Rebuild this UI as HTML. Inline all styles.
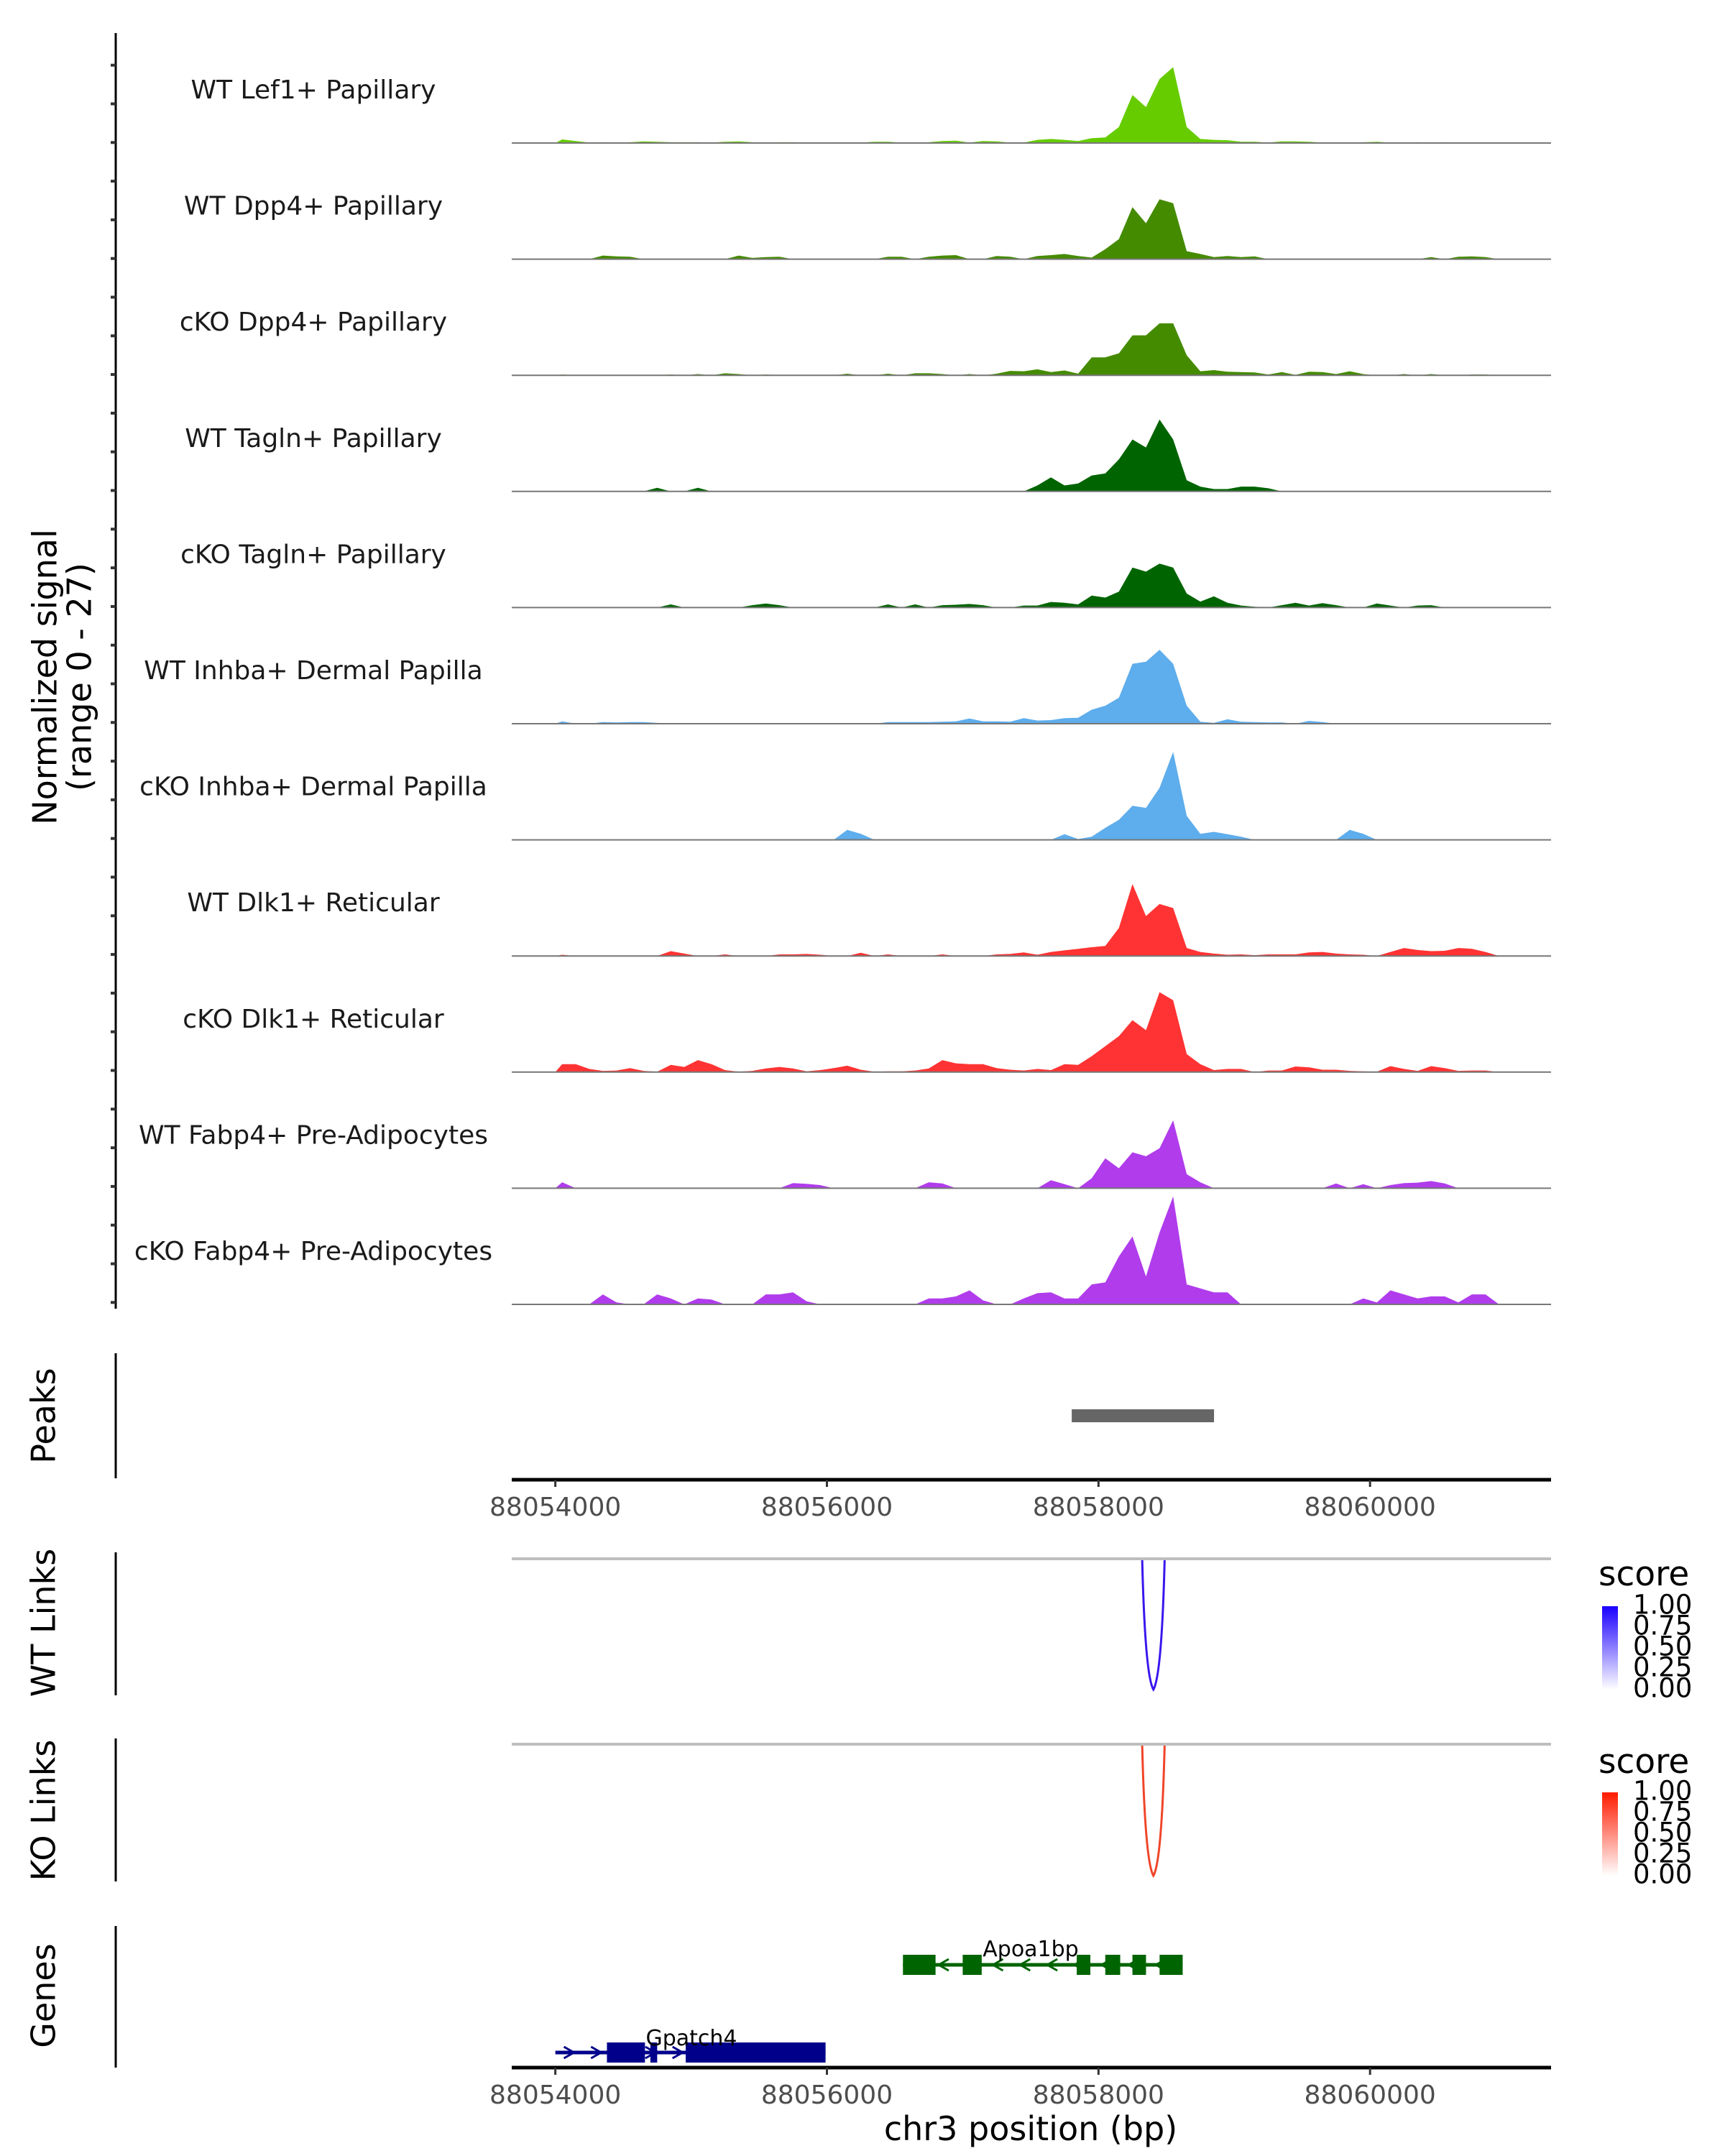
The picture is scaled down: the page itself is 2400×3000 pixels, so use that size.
<!DOCTYPE html>
<html><head><meta charset="utf-8"><style>
html,body{margin:0;padding:0;background:#fff;}
svg{display:block;font-family:"DejaVu Sans","Liberation Sans",sans-serif;}
</style></head><body>
<svg id="fig" width="2400" height="3000" viewBox="0 0 2400 3000" xmlns="http://www.w3.org/2000/svg">
<g id="tracks"></g>
<g id="axes"></g>
</svg>
<script>
const binStart = 88054000;
const binWidth = 100;
const trackNames = ["WT Lef1+ Papillary","WT Dpp4+ Papillary","cKO Dpp4+ Papillary","WT Tagln+ Papillary","cKO Tagln+ Papillary","WT Inhba+ Dermal Papilla","cKO Inhba+ Dermal Papilla","WT Dlk1+ Reticular","cKO Dlk1+ Reticular","WT Fabp4+ Pre-Adipocytes","cKO Fabp4+ Pre-Adipocytes"];
const trackColors = ["#66CC00","#458B00","#458B00","#006400","#006400","#5EADEC","#5EADEC","#FF3333","#FF3333","#B03CEC","#B03CEC"];
const wtLef1 = [0.9,0.5,0.1,0.2,0.1,0.2,0.4,0.3,0.2,0.2, 0.2,0.1,0.3,0.4,0.2,0.1,0.2,0.2,0.1,0.1, 0.2,0.1,0.1,0.3,0.3,0.1,0.1,0.2,0.5,0.6, 0.1,0.5,0.4,0.1,0.1,0.8,1.0,0.8,0.5,1.2, 1.4,4,12,9,16,19,4,1,0.8,0.7, 0.3,0.3,0.1,0.4,0.4,0.3,0.1,0.1,0.1,0.2, 0.3,0.1,0.1,0.2,0.1,0.2,0.1,0.1,0.1,0];
const wtDpp4 = [0,0,0,0.9,0.7,0.6,0,0,0,0, 0,0,0,0.9,0.3,0.5,0.6,0,0,0, 0,0,0,0,0.6,0.6,0,0.6,0.9,1.0, 0,0,0.8,0.6,0,0.8,1.0,1.3,0.8,0.4, 2.5,5,13,9,15,14,2,1.3,0.5,0.8, 0.5,0.7,0,0,0,0,0,0,0,0, 0,0,0,0,0.5,0,0.6,0.7,0.5,0];
const koDpp4 = [0.2,0,0,0,0,0,0,0,0.2,0, 0.3,0,0.5,0.3,0,0.2,0,0,0,0, 0,0.4,0,0,0.4,0,0.5,0.5,0.3,0, 0.3,0,0.4,1.1,1.0,1.5,0.8,1.2,0.4,4.5, 4.5,5.5,10,10,13,13,5,1.0,1.3,0.9, 0.8,0.7,0.2,0.8,0.1,0.9,0.8,0.3,1.0,0.3, 0,0,0.3,0,0.3,0,0,0.2,0.2,0];
const wtTagln = [0,0,0,0,0,0,0,0.9,0,0, 0.9,0,0,0,0,0,0,0,0,0, 0,0,0,0,0,0,0,0,0,0, 0,0,0,0,0,1.5,3.5,1.5,2.0,4, 4.5,8,13,11,18,13,2.8,1.2,0.6,0.6, 1.2,1.2,0.8,0,0,0,0,0,0,0, 0,0,0,0,0,0,0,0,0,0];
const koTagln = [0,0,0,0,0,0,0,0,0.8,0, 0,0,0,0,0.6,1.0,0.6,0,0,0, 0,0,0,0,0.8,0,0.8,0,0.6,0.7, 0.9,0.6,0,0,0.5,0.5,1.4,1.2,0.8,3, 2.5,4,10,9,11,10,3.5,1.5,2.8,1.2, 0.5,0.2,0,0.6,1.2,0.5,1.1,0.6,0,0, 1.0,0.5,0,0.5,0.6,0,0,0,0,0];
const wtInhba = [0.6,0,0,0.4,0.3,0.4,0.4,0.2,0,0, 0,0,0,0,0,0,0,0,0,0, 0,0,0,0,0.4,0.4,0.4,0.4,0.5,0.6, 1.3,0.6,0.6,0.5,1.4,0.8,0.9,1.4,1.5,3.5, 4.5,6.5,15,15.5,18.5,15,4.5,0.5,0.2,1.1, 0.5,0.4,0.3,0.3,0,0.7,0.4,0,0,0, 0,0,0,0,0,0,0,0,0,0];
const koInhba = [0,0,0,0,0,0,0,0,0,0, 0,0,0,0,0,0,0,0,0,0, 0,2.5,1.5,0,0,0,0,0,0,0, 0,0,0,0,0,0,0,1.4,0.2,0.8, 3,5,8.5,8,13,22,6,1.5,2,1.4, 0.8,0,0,0,0,0,0,0,2.5,1.5, 0,0,0,0,0,0,0,0,0,0];
const wtDlk1 = [0.3,0,0,0,0,0,0,0,1.2,0.6, 0,0,0.4,0,0,0,0.4,0.4,0.5,0.3, 0,0,0.8,0,0.4,0,0,0,0.4,0, 0,0,0.4,0.5,0.9,0.3,1.0,1.4,1.8,2.2, 2.5,7,18,10,13,12,2,1,0.6,0.3, 0.4,0.2,0.4,0.4,0.4,0.9,1.0,0.6,0.4,0.3, 0,1.0,2.0,1.5,1.2,1.3,2.0,1.8,1.0,0];
const koDlk1 = [2.0,2.0,0.8,0.3,0.4,1.0,0.3,0.1,1.8,1.3, 3,2.0,0.5,0.1,0.3,0.9,1.3,0.9,0.2,0.5, 1.0,1.6,0.6,0.1,0.2,0.2,0.4,0.9,3,2.2, 2,2,1.0,0.6,0.4,0.8,0.5,2,1.8,4, 6.5,9,13,10.5,20,18,4.5,2,0.5,0.8, 0.8,0,0.4,0.4,1.4,1.2,0.6,0.6,0.3,0.2, 0.1,1.5,0.8,0.3,1.5,1.0,0.3,0.4,0.4,0];
const wtFabp4 = [1.5,0,0,0,0,0,0,0,0,0, 0,0,0,0,0,0,0,1.3,1.1,0.8, 0,0,0,0,0,0,0,1.5,1.2,0, 0,0,0,0,0,0,2.0,1.0,0,2.5, 7.5,5,9,8,10,17,3.5,1.5,0,0, 0,0,0,0,0,0,0,1.2,0,1.0, 0,0.8,1.3,1.4,1.8,1.2,0,0,0,0];
const koFabp4 = [0,0,0,2.5,0.5,0,0,2.5,1.5,0, 1.5,1.2,0,0,0,2.5,2.5,3,0.8,0, 0,0,0,0,0,0,0,1.5,1.5,2, 3.5,1.0,0,0,1.5,2.8,3,1.5,1.5,5, 5.5,12,17,7,18,27,5,4,3,3, 0,0,0,0,0,0,0,0,0,1.5, 0.5,3.5,2.5,1.5,2,2,0.5,2.5,2.5,0];
const trackValues = [wtLef1,wtDpp4,koDpp4,wtTagln,koTagln,wtInhba,koInhba,wtDlk1,koDlk1,wtFabp4,koFabp4];
const xTicks = [88054000,88056000,88058000,88060000];
const peakStarts = [88057803];
const peakEnds = [88058851];
const wtLinkStart = [88058322], wtLinkEnd = [88058487], wtLinkScore = [1.0];
const koLinkStart = [88058322], koLinkEnd = [88058487], koLinkScore = [1.0];
const legendTicks = ["1.00","0.75","0.50","0.25","0.00"];
const apoaExons = [[88056560,88056800],[88057000,88057140],[88057840,88057940],[88058050,88058160],[88058250,88058350],[88058450,88058620]];
const apoaSpan = [88056560,88058620];
const gpatchExons = [[88054380,88054660],[88054700,88054750],[88054960,88055990]];
const gpatchSpan = [88054000,88055990];

const NS = "http://www.w3.org/2000/svg";
const X0 = 712, X1 = 2158, BP0 = 88053679, BP1 = 88061333;
function xs(bp){ return X0 + (bp-BP0)/(BP1-BP0)*(X1-X0); }
const unitPx = 5.56;
function ys(v, base){ return base - v*unitPx; }
function mk(tag, attrs, parent){ const e=document.createElementNS(NS,tag); for(const k in attrs) e.setAttribute(k,attrs[k]); parent.appendChild(e); return e; }
const svg=document.getElementById('fig'), gT=document.getElementById('tracks'), gA=document.getElementById('axes');

const base0 = 199, step = 161.6;
trackValues.forEach((vals,t)=>{
  const base = base0 + step*t;
  const g = mk('g',{},gT);
  
  
  let pts = [[xs(binStart), base]];
  vals.forEach((v,i)=>{ pts.push([xs(binStart+binWidth*(i+0.5)), ys(v,base)]); });
  pts.push([xs(binStart+binWidth*vals.length), base]);
  const p = mk('polygon',{points:pts.map(p=>p[0].toFixed(1)+','+p[1].toFixed(1)).join(' '),fill:trackColors[t]},g);
  
  
  const bl = mk('line',{x1:X0,x2:X1,y1:base,y2:base,stroke:'#777','stroke-width':2},g);
  
  
  const lab = mk('text',{x:436,y:base-72,'font-size':36,fill:'#1a1a1a','text-anchor':'middle','dominant-baseline':'middle'},g);
  lab.textContent = trackNames[t];
  
  
});

function vline(y1,y2,name){ const l=mk('line',{x1:161,x2:161,y1:y1,y2:y2,stroke:'#000','stroke-width':3},gA);   }
vline(46,1821,'signal-y-axis');
for(let k=0;k<=32;k++){ const y=90.7+53.8*k; const t=mk('line',{x1:154,x2:161,y1:y,y2:y,stroke:'#333','stroke-width':4},gA);   }
vline(1883,2057,'peaks-y-axis');
vline(2160,2359,'wt-links-y-axis');
vline(2419,2618,'ko-links-y-axis');
vline(2680,2877,'genes-y-axis');

function rotText(x,y,txt,name,size){ const t=mk('text',{x:0,y:0,'font-size':size||46,fill:'#000','text-anchor':'middle','dominant-baseline':'middle',transform:`translate(${x},${y}) rotate(-90)`},gA); t.textContent=txt;   return t; }
rotText(66,942,'Normalized signal','y-axis-title');
rotText(114,942,'(range 0 - 27)','y-axis-subtitle');
rotText(64,1970,'Peaks','peaks-label');
rotText(64,2258,'WT Links','wt-links-label');
rotText(64,2519,'KO Links','ko-links-label');
rotText(64,2777,'Genes','genes-label');

peakStarts.forEach((s,i)=>{ const r=mk('rect',{x:xs(s),y:1961,width:xs(peakEnds[i])-xs(s),height:18,fill:'#666'},gA);   });

function xaxis(y,name){
  const l=mk('line',{x1:X0,x2:X1,y1:y,y2:y,stroke:'#000','stroke-width':5},gA);  
  xTicks.forEach(v=>{ const x=xs(v);
    const t=mk('line',{x1:x,x2:x,y1:y,y2:y+10,stroke:'#333','stroke-width':3},gA);  
    const tl=mk('text',{x:x,y:y+50,'font-size':36,fill:'#4d4d4d','text-anchor':'middle'},gA); tl.textContent=v;  
  });
}
xaxis(2059,'peaks-x-axis');
xaxis(2877,'genes-x-axis');
const xt=mk('text',{x:1434,y:2978,'font-size':46,fill:'#000','text-anchor':'middle'},gA); xt.textContent='chr3 position (bp)';  

function links(top,bottom,starts,ends,color,name){
  const l=mk('line',{x1:X0,x2:X1,y1:top,y2:top,stroke:'#bebebe','stroke-width':4},gA);  
  starts.forEach((s,i)=>{ const a=xs(s), b=xs(ends[i]); const m=(a+b)/2;
    const p=mk('path',{d:`M${a},${top+2} Q${a+4},${bottom-20} ${m},${bottom} Q${b-4},${bottom-20} ${b},${top+2}`,fill:'none',stroke:color,'stroke-width':3},gA);   });
}
links(2169,2351,wtLinkStart,wtLinkEnd,'#3a16ee','wt-link');
links(2427,2610,koLinkStart,koLinkEnd,'#f04428','ko-link');

function legend(titleY,barTop,barBot,color,id){
  const defs=mk('defs',{},svg);
  const lg=mk('linearGradient',{id:id,x1:0,y1:1,x2:0,y2:0},defs);
  mk('stop',{offset:0,'stop-color':'#ffffff'},lg); mk('stop',{offset:1,'stop-color':color},lg);
  const t=mk('text',{x:2224,y:titleY,'font-size':47,fill:'#000'},gA); t.textContent='score';  
  const r=mk('rect',{x:2229,y:barTop,width:22,height:barBot-barTop,fill:`url(#${id})`},gA);  
  legendTicks.forEach((s,i)=>{ const y=barTop+(barBot-barTop)*i/(legendTicks.length-1);
    const tx=mk('text',{x:2272,y:y,'font-size':37,fill:'#000','dominant-baseline':'middle'},gA); tx.textContent=s;   });
}
legend(2206,2235,2351,'#1a00ff','gradWT');
legend(2467,2494,2610,'#ff1a00','gradKO');

function gene(span,exons,y,color,label,dir,name,labelX,labelY){
  const g=mk('g',{},gA);  
  mk('line',{x1:xs(span[0]),x2:xs(span[1]),y1:y,y2:y,stroke:color,'stroke-width':5},g);
  for(let bp=span[0]+100; bp<span[1]; bp+=200){ const x=xs(bp); const d=dir*7;
    mk('path',{d:`M${x-d},${y-8} L${x+d},${y} L${x-d},${y+8}`,fill:'none',stroke:color,'stroke-width':3},g); }
  exons.forEach(e=>{ mk('rect',{x:xs(e[0]),y:y-14,width:xs(e[1])-xs(e[0]),height:28,fill:color},g); });
  const t=mk('text',{x:labelX,y:labelY,'font-size':30,fill:'#000','text-anchor':'middle'},g); t.textContent=label;
}
gene(apoaSpan,apoaExons,2734,'#006400','Apoa1bp',-1,'gene-apoa1bp',1434,2722);
gene(gpatchSpan,gpatchExons,2856,'#00008B','Gpatch4',1,'gene-gpatch4',962,2846);
</script>
</body></html>
